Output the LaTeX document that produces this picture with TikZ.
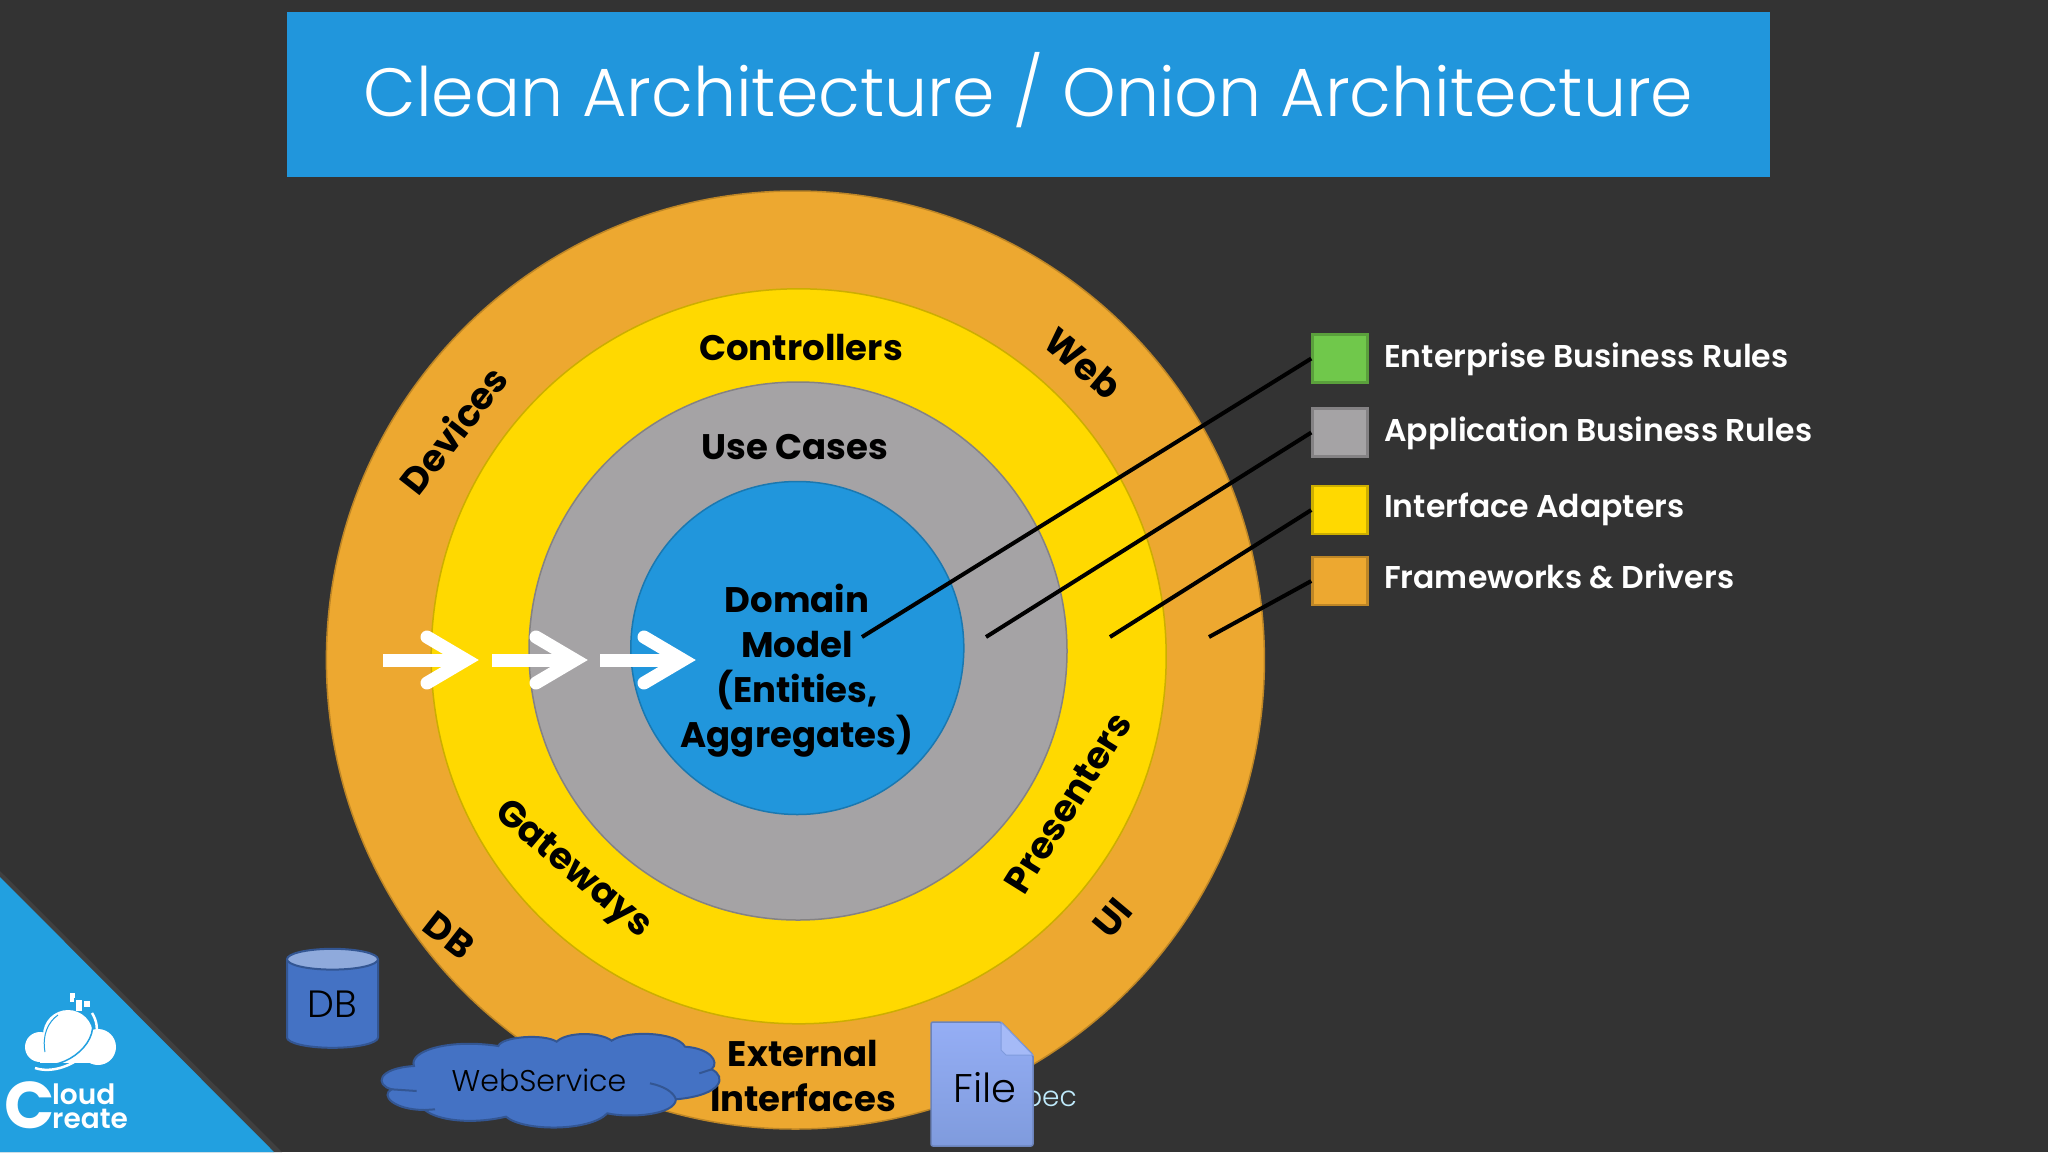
\documentclass[tikz,border=0pt]{standalone}
\usepackage{fontspec}
\setmainfont{Poppins}
\newfontfamily\lightfont{Poppins Light}
\newfontfamily\semifont{Poppins SemiBold}
\usepackage{tikz}
\usetikzlibrary{arrows.meta,shapes.geometric,calc}

\definecolor{slide}{HTML}{333333}
\definecolor{banner}{HTML}{2196DC}
\definecolor{corner}{HTML}{22A0E0}
\definecolor{frameworks}{HTML}{EDA830}
\definecolor{adapters}{HTML}{FFD900}
\definecolor{usecases}{HTML}{A5A3A5}
\definecolor{entities}{HTML}{2196DC}
\definecolor{enterprise}{HTML}{70C84B}
\definecolor{shapeblue}{HTML}{4472C4}
\definecolor{filetop}{HTML}{95AEF5}
\definecolor{filebottom}{HTML}{7F9BDD}

\tikzset{
  ring/.style={circle, draw=#1!80!black, fill=#1, line width=1.5, inner sep=0},
  ringlabel/.style={font=\fontsize{35.5}{45}\selectfont\bfseries, text=black, align=center, inner sep=0},
  sidelabel/.style={font=\fontsize{37}{45}\selectfont\bfseries, text=black, inner sep=0},
  legendbox/.style={rectangle, draw=#1!80!black, fill=#1, line width=2.5, minimum width=55, minimum height=48, inner sep=0},
  legendtext/.style={anchor=base west, font=\fontsize{31.5}{38}\selectfont\semifont, text=white, inner sep=0},
  pointer/.style={draw=black, line width=4},
  flowline/.style={draw=white, line width=13},
  flowhead/.style={draw=white, line width=13, line cap=round, miter limit=10},
  logotext/.style={anchor=base west, text=white, inner sep=0}
}

\begin{document}
\begin{tikzpicture}[x=1pt, y=-1pt]
  \useasboundingbox (0,0) rectangle (2048,1152);
  \fill[slide] (0,0) rectangle (2048,1152);

  % Title
  \node[rectangle, fill=banner, minimum width=1483, minimum height=165, inner sep=0, text=white,
        text height=44, text depth=0,
        font=\fontsize{68.2}{80}\selectfont\lightfont] (title) at (1028.5,94.5) {Clean Architecture / Onion Architecture};

  % Rings
  \node[ring=frameworks, minimum size=938] (outerring) at (795.4,660) {};
  \node[ring=adapters, minimum size=735] (adapterring) at (798.7,656.3) {};
  \node[ring=usecases, minimum size=538] (casering) at (798,651) {};
  \node[ring=entities, minimum size=333] (domainring) at (797.3,648) {};

  % Ring labels
  \node[ringlabel] (controllers) at (801,347) {Controllers};
  \node[ringlabel] (cases) at (795,447) {Use Cases};
  \node[ringlabel] (domain) at (797,671) {Domain\\Model\\(Entities,\\Aggregates)};
  \node[sidelabel, rotate=-40] (web) at (1083,363) {Web};
  \node[sidelabel, rotate=52] (devices) at (453,430) {Devices};
  \node[sidelabel, rotate=-40] (gateways) at (572,871) {Gateways};
  \node[sidelabel, rotate=58] (presenters) at (1068,803) {Presenters};
  \node[sidelabel, rotate=-38] (dblabel) at (449,935) {DB};
  \node[sidelabel, rotate=50] (uilabel) at (1113,918) {UI};
  \node[ringlabel] (external) at (803,1076) {External\\Interfaces};

  % Flow arrows
  \foreach \x in {383,492,600} {
    \draw[flowline] (\x,660) -- (\x+80,660);
    \draw[flowhead] (\x+44,637) -- (\x+83,660) -- (\x+44,683);
  }

  % Legend
  \node[legendbox=enterprise] (greenbox) at (1340,358.5) {};
  \node[legendbox=usecases] (greybox) at (1340,432.5) {};
  \node[legendbox=adapters] (yellowbox) at (1340,510) {};
  \node[legendbox=frameworks] (orangebox) at (1340,581) {};
  \node[legendtext] (greentext) at (1384,367) {Enterprise Business Rules};
  \node[legendtext] (greytext) at (1384,441) {Application Business Rules};
  \node[legendtext] (yellowtext) at (1384,517) {Interface Adapters};
  \node[legendtext] (orangetext) at (1384,588) {Frameworks \& Drivers};

  % Pointers
  \coordinate (greenend) at (862,637);
  \coordinate (greyend) at (986,637);
  \coordinate (yellowend) at (1110,637);
  \coordinate (orangeend) at (1209,637);
  \draw[pointer] (greenend) -- (greenbox.west);
  \draw[pointer] (greyend) -- (greybox.west);
  \draw[pointer] (yellowend) -- (yellowbox.west);
  \draw[pointer] (orangeend) -- (orangebox.west);

  % Database
  \node[cylinder, shape border rotate=90, aspect=0.42, minimum width=91, minimum height=99, inner sep=0,
        draw=shapeblue!75!black, line width=2, cylinder uses custom fill, cylinder body fill=shapeblue,
        cylinder end fill=shapeblue!60!white, text=black, font=\fontsize{38}{40}\selectfont\lightfont] (database) at (332.5,1004) {\raisebox{-8pt}{DB}};

  % Web service cloud
  \begin{scope}[shift={(370,1020)}, x=0.3333pt, y=-0.3333pt]
    \draw[fill=shapeblue, draw=shapeblue!75!black, line width=2]
      (132,138) .. controls (115,95) and (230,55) .. (385,78)
      .. controls (395,50) and (520,40) .. (560,65)
      .. controls (590,35) and (690,35) .. (725,62)
      .. controls (770,30) and (920,35) .. (945,80)
      .. controls (1020,85) and (1050,125) .. (1025,148)
      .. controls (1070,170) and (1060,225) .. (918,238)
      .. controls (915,285) and (780,295) .. (712,280)
      .. controls (660,335) and (460,335) .. (408,290)
      .. controls (300,315) and (200,300) .. (165,270)
      .. controls (70,270) and (30,225) .. (65,208)
      .. controls (15,195) and (20,145) .. (132,138) -- cycle;
    \draw[draw=shapeblue!75!black, line width=2] (988,160) -- (1025,148);
    \draw[draw=shapeblue!75!black, line width=2] (840,190) .. controls (880,198) and (910,215) .. (918,238);
    \draw[draw=shapeblue!75!black, line width=2] (65,208) -- (140,213);
    \draw[draw=shapeblue!75!black, line width=2] (165,270) -- (195,268);
  \end{scope}
  \node[text=black, inner sep=0, font=\fontsize{30}{36}\selectfont\lightfont] (webservice) at (539,1080) {WebService};

  % File, the word behind it is cut off
  \node[anchor=east, text=cyan!25!white, inner sep=0, font=\fontsize{28}{34}\selectfont\lightfont] (hidden) at (1077,1102) {pec};
  \fill[top color=filetop, bottom color=filebottom, draw=filebottom!85!black, line width=1.5, rounded corners=2]
    (931,1022) -- (1001,1022) -- (1033,1055) -- (1033,1146) -- (931,1146) -- cycle;
  \fill[filetop!85!white, draw=filebottom, line width=1] (1001,1022) -- (1033,1055) -- (1006,1055) -- (1001,1050) -- cycle;
  \node[text=black, inner sep=0, font=\fontsize{40}{46}\selectfont\lightfont] (file) at (985,1088) {File};

  % Corner
  \fill[black!75] (0,871) -- (282,1152) -- (0,1152) -- cycle;
  \fill[corner] (0,877) -- (274,1152) -- (0,1152) -- cycle;

  % Logo
  \fill[white] (68,1035) circle (25);
  \fill[white] (40,1047) circle (15);
  \fill[white] (98,1047) circle (18);
  \fill[white] (40,1045) rectangle (98,1063);
  \draw[corner, line width=1] (45,1052) .. controls (42,1035) and (48,1022) .. (58,1015);
  \draw[white, line width=2.5] (35,1068) .. controls (65,1078) and (112,1045) .. (92,1013);
  \draw[corner, line width=1.5] (37,1064) .. controls (65,1072) and (105,1040) .. (89,1013);
  \foreach \px/\py/\ps in {70/993/5, 70/998/4, 76/1000/6, 84/1001/6, 76/1005/6} {
    \fill[white] (\px,\py) rectangle (\px+\ps,\py+\ps);
  }
  \node[logotext, font=\fontsize{66}{66}\selectfont\bfseries] (logoc) at (4,1128) {C};
  \node[logotext, font=\fontsize{28}{28}\selectfont\semifont] (logoloud) at (52,1104) {loud};
  \node[logotext, font=\fontsize{28}{28}\selectfont\semifont] (logocreate) at (52,1128) {reate};
\end{tikzpicture}
\end{document}
